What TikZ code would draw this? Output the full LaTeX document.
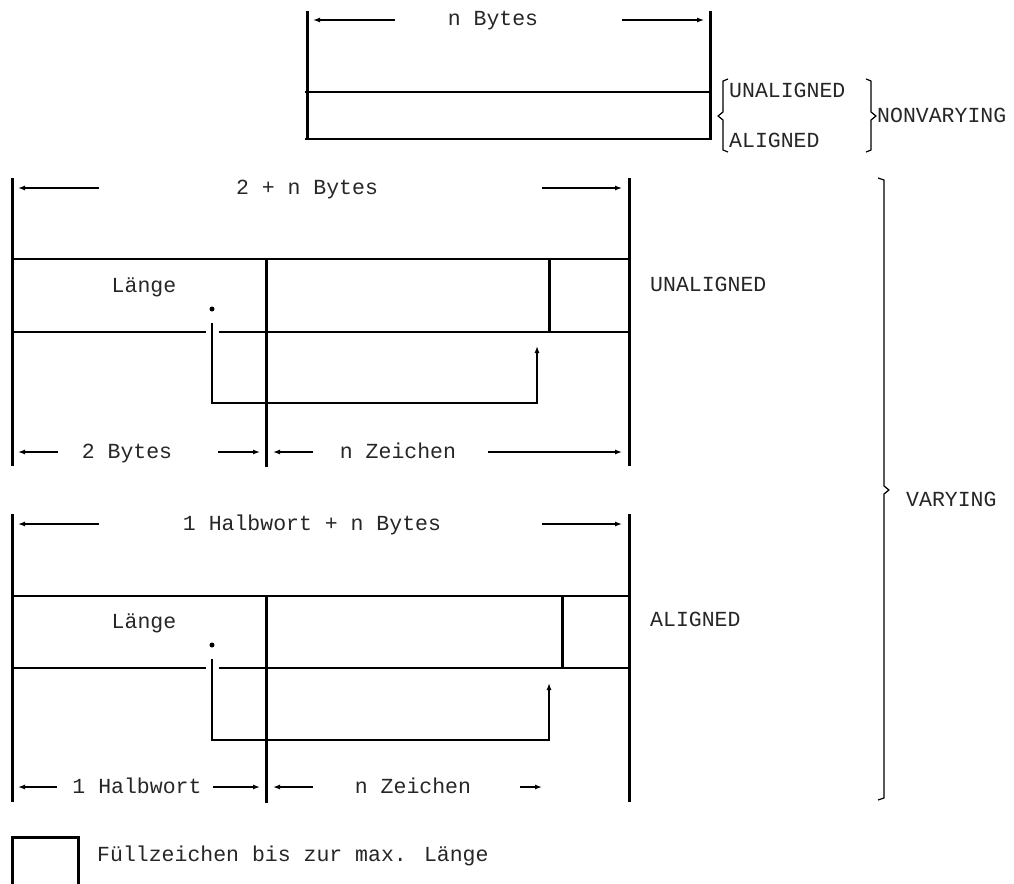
\documentclass[tikz,border=0pt]{standalone}
\usepackage{fontspec}
\newfontfamily\lbfont{Liberation Mono}
\usetikzlibrary{arrows.meta}
\tikzset{
  vline/.style={line width=3pt},
  hline/.style={line width=2pt},
  ptr/.style={line width=2pt},
  dim/.style={line width=1.3pt,-{Latex[length=7pt,width=5pt]}},
  brace/.style={line width=1.2pt,line join=round},
  lbl/.style={font=\lbfont\fontsize{21.5}{24}\selectfont,inner sep=0pt,text=black!85,text height=12pt,text depth=0pt},
}
\begin{document}
\begin{tikzpicture}[x=1pt,y=-1pt]
\useasboundingbox (0,0) rectangle (1014,883);

% ---------- NONVARYING box ----------
\coordinate (tTL) at (307,11); \coordinate (tBL) at (307,140);
\coordinate (tTR) at (710,11); \coordinate (tBR) at (710,140);
\draw[vline] (tTL) -- (tBL);
\draw[vline] (tTR) -- (tBR);
\draw[hline] (305,92) -- (711,92);
\draw[hline] (305,139) -- (711,139);
\node[lbl] (nbytes) at (493,20) {n Bytes};
\coordinate (a1t) at (395,20); \coordinate (a1h) at (313,20);
\coordinate (a2t) at (622,20); \coordinate (a2h) at (704,20);
\draw[dim] (a1t) -- (a1h);
\draw[dim] (a2t) -- (a2h);

% braces
\draw[brace] (728,79) -- (723,81) -- (723,112) -- (718,116) -- (723,120) -- (723,150) -- (728,152);
\draw[brace] (866,79) -- (871,81) -- (871,112) -- (876,116) -- (871,120) -- (871,150) -- (866,152);
\node[lbl,anchor=west] (nvU) at (729,91) {UNALIGNED};
\node[lbl,anchor=west] (nvA) at (729,141) {ALIGNED};
\node[lbl,anchor=west] (nv) at (877,116) {NONVARYING};

% ---------- VARYING UNALIGNED ----------
\draw[vline] (12,178) -- (12,466);
\draw[vline] (629,178) -- (629,466);
\draw[vline] (266,259) -- (266,467);
\draw[vline] (549,259) -- (549,332);
\draw[hline] (12,259) -- (629,259);
\draw[hline] (12,332) -- (206,332);
\draw[hline] (219,332) -- (629,332);
\node[lbl] (u2n) at (307,188) {2 + n Bytes};
\draw[dim] (99,188) -- (18,188);
\draw[dim] (542,188) -- (622,188);
\node[lbl] (uL) at (144,286) {Länge};
\fill (212,309) circle (2.5pt);
\draw[ptr] (212,323) -- (212,403) -- (537,403) -- (537,370);
\draw[line width=1.3pt,-{Latex[length=7pt,width=5pt]}] (537,371) -- (537,346);
\node[lbl] (u2b) at (127,452) {2 Bytes};
\draw[dim] (58,452) -- (18,452);
\draw[dim] (218,452) -- (260,452);
\node[lbl] (unz) at (398,452) {n Zeichen};
\draw[dim] (313,452) -- (273,452);
\draw[dim] (488,452) -- (622,452);
\node[lbl,anchor=west] (uLab) at (650,285) {UNALIGNED};

% ---------- VARYING ALIGNED ----------
\draw[vline] (12,514) -- (12,802);
\draw[vline] (629,514) -- (629,802);
\draw[vline] (266,596) -- (266,803);
\draw[vline] (562,596) -- (562,668);
\draw[hline] (12,596) -- (629,596);
\draw[hline] (12,668) -- (206,668);
\draw[hline] (219,668) -- (629,668);
\node[lbl] (ahb) at (312,524) {1 Halbwort + n Bytes};
\draw[dim] (99,524) -- (18,524);
\draw[dim] (542,524) -- (622,524);
\node[lbl] (aL) at (144,622) {Länge};
\fill (212,645) circle (2.5pt);
\draw[ptr] (212,659) -- (212,740) -- (549,740) -- (549,707);
\draw[line width=1.3pt,-{Latex[length=7pt,width=5pt]}] (549,708) -- (549,683);
\node[lbl] (a1h) at (137,787) {1 Halbwort};
\draw[dim] (57,787) -- (18,787);
\draw[dim] (213,787) -- (260,787);
\node[lbl] (anz) at (413,787) {n Zeichen};
\draw[dim] (313,787) -- (273,787);
\draw[dim] (520,787) -- (542,787);
\node[lbl,anchor=west] (aLab) at (650,620) {ALIGNED};

% VARYING brace
\draw[brace] (878,178) -- (884,180) -- (884,486) -- (889,490) -- (884,494) -- (884,798) -- (878,800);
\node[lbl,anchor=west] (var) at (906,500) {VARYING};

% ---------- legend ----------
\draw[vline] (12,884) -- (12,837) -- (78,837) -- (78,884);
\node[lbl,anchor=west] (leg) at (97,855) {Füllzeichen bis zur max. Länge};
\end{tikzpicture}
\end{document}
